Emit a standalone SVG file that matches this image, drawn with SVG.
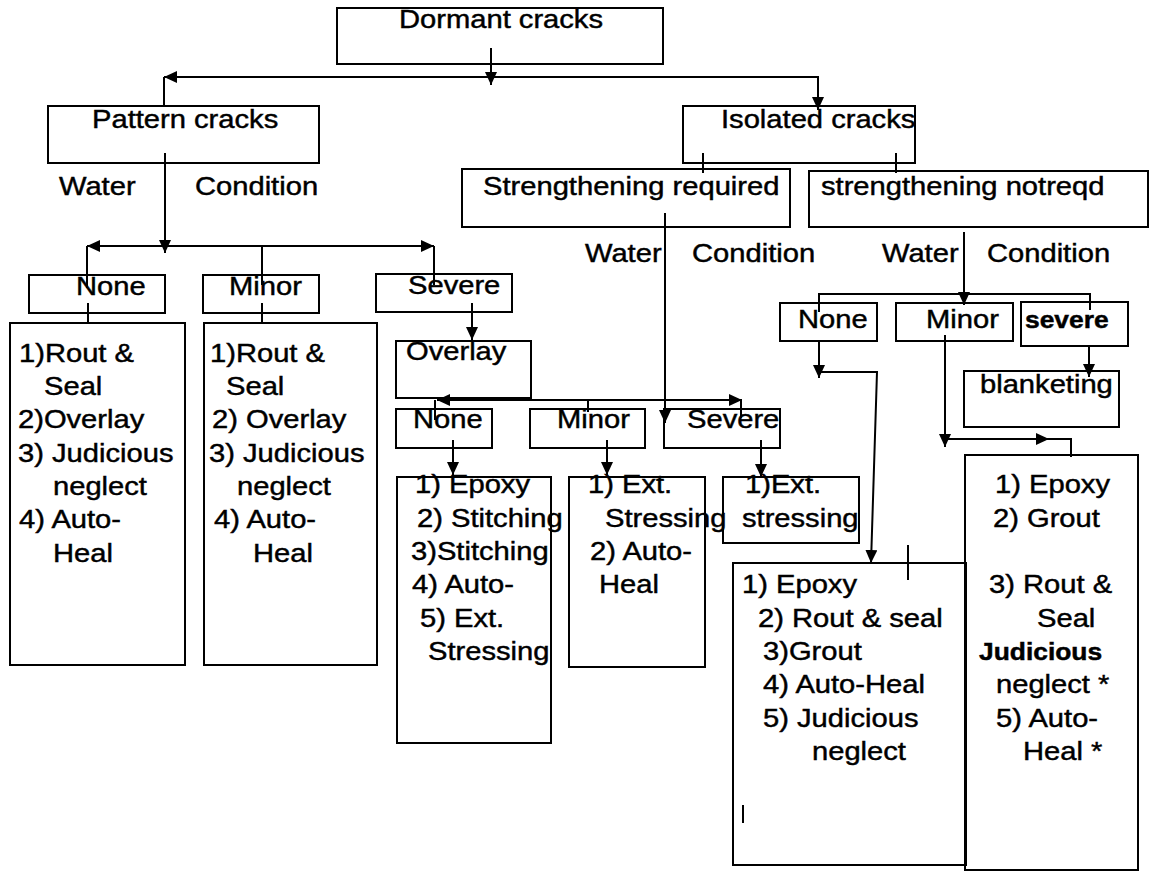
<svg xmlns="http://www.w3.org/2000/svg" width="1158" height="871" viewBox="0 0 1158 871">
  <defs>
    <style>
      .box { fill: none; stroke: #000; stroke-width: 2; }
      .ln { fill: none; stroke: #000; stroke-width: 2; }
      .arr { marker-end: url(#head); }
      text { font-family: "Liberation Sans", Arial, sans-serif; fill: #000; stroke: #000; stroke-width: 0.45; }
      .t { font-size: 26.5px; transform-box: fill-box; transform-origin: left; transform: scaleX(1.1); }
      .b { font-size: 24px; font-weight: bold; transform-box: fill-box; transform-origin: left; transform: scaleX(1.1); }
    </style>
    <marker id="head" markerUnits="userSpaceOnUse" markerWidth="14" markerHeight="13" refX="13" refY="6" orient="auto">
      <path d="M0,0 L13,6 L0,12 z" fill="#000"/>
    </marker>
  </defs>
  <rect width="1158" height="871" fill="#fff"/>

  <!-- connectors -->
  <g id="connectors">
    <path class="ln arr" d="M491,48 V85"/>
    <path class="ln arr" d="M491,77 H164"/>
    <path class="ln" d="M164,77 V106"/>
    <path class="ln arr" d="M491,77 H818 V110"/>

    <path class="ln arr" d="M165,153 V253"/>
    <path class="ln arr" d="M165,246 H87"/>
    <path class="ln" d="M87,246 V288"/>
    <path class="ln arr" d="M165,246 H434"/>
    <path class="ln" d="M434,246 V285"/>
    <path class="ln" d="M262,246 V285"/>

    <path class="ln" d="M88,303 V323"/>
    <path class="ln" d="M262,303 V323"/>
    <path class="ln arr" d="M472,303 V340"/>

    <path class="ln arr" d="M588,400 H437"/>
    <path class="ln arr" d="M588,400 H742"/>
    <path class="ln" d="M435,400 V420"/>
    <path class="ln" d="M588,400 V412"/>
    <path class="ln" d="M741,400 V418"/>

    <path class="ln arr" d="M665,213 V423"/>
    <path class="ln arr" d="M453,440 V475"/>
    <path class="ln arr" d="M607,440 V475"/>
    <path class="ln arr" d="M761,440 V477"/>

    <path class="ln" d="M703,153 V173"/>
    <path class="ln" d="M896,153 V173"/>

    <path class="ln arr" d="M964,232 V305"/>
    <path class="ln" d="M819,312 V294 H1090 V310"/>

    <path class="ln arr" d="M819,342 V378"/>
    <path class="ln arr" d="M819,372 H877 L871,563"/>

    <path class="ln arr" d="M945,335 V447"/>
    <path class="ln arr" d="M945,439 H1049"/>
    <path class="ln" d="M1049,439 H1071 V457"/>

    <path class="ln arr" d="M1089,346 V377"/>

    <path class="ln" d="M908,545 V580"/>
    <path class="ln" d="M743,805 V823"/>
  </g>

  <!-- top level -->
  <g id="dormant">
    <rect class="box" x="337" y="8" width="326" height="56"/>
    <text class="t" x="399" y="28">Dormant cracks</text>
  </g>
  <g id="pattern">
    <rect class="box" x="48" y="106" width="271" height="57"/>
    <text class="t" x="92" y="128">Pattern cracks</text>
  </g>
  <g id="isolated">
    <rect class="box" x="683" y="106" width="232" height="57"/>
    <text class="t" x="721" y="128">Isolated cracks</text>
  </g>
  <g id="str-req">
    <rect class="box" x="462" y="169" width="328" height="58"/>
    <text class="t" x="483" y="195">Strengthening required</text>
  </g>
  <g id="str-notreq">
    <rect class="box" x="809" y="171" width="339" height="56"/>
    <text class="t" x="821" y="195">strengthening notreqd</text>
  </g>

  <!-- water condition labels -->
  <g id="wc-pattern">
    <text class="t" x="59" y="195">Water</text>
    <text class="t" x="195" y="195">Condition</text>
  </g>
  <g id="wc-req">
    <text class="t" x="585" y="262">Water</text>
    <text class="t" x="692" y="262">Condition</text>
  </g>
  <g id="wc-notreq">
    <text class="t" x="882" y="262">Water</text>
    <text class="t" x="987" y="262">Condition</text>
  </g>

  <!-- pattern cracks branch -->
  <g id="p-none">
    <rect class="box" x="29" y="275" width="136" height="38"/>
    <text class="t" x="76" y="295">None</text>
  </g>
  <g id="p-minor">
    <rect class="box" x="203" y="275" width="116" height="38"/>
    <text class="t" x="229" y="295">Minor</text>
  </g>
  <g id="p-severe">
    <rect class="box" x="376" y="274" width="136" height="38"/>
    <text class="t" x="408" y="294">Severe</text>
  </g>
  <g id="p-none-list">
    <rect class="box" x="10" y="323" width="175" height="342"/>
    <text class="t" x="19" y="362">1)Rout &amp;</text>
    <text class="t" x="44" y="395">Seal</text>
    <text class="t" x="18" y="428">2)Overlay</text>
    <text class="t" x="18" y="462">3) Judicious</text>
    <text class="t" x="53" y="495">neglect</text>
    <text class="t" x="19" y="528">4) Auto-</text>
    <text class="t" x="53" y="562">Heal</text>
  </g>
  <g id="p-minor-list">
    <rect class="box" x="204" y="323" width="173" height="342"/>
    <text class="t" x="210" y="362">1)Rout &amp;</text>
    <text class="t" x="226" y="395">Seal</text>
    <text class="t" x="212" y="428">2) Overlay</text>
    <text class="t" x="209" y="462">3) Judicious</text>
    <text class="t" x="237" y="495">neglect</text>
    <text class="t" x="214" y="528">4) Auto-</text>
    <text class="t" x="253" y="562">Heal</text>
  </g>
  <g id="overlay">
    <rect class="box" x="396" y="341" width="135" height="57"/>
    <text class="t" x="406" y="360">Overlay</text>
  </g>

  <!-- strengthening required branch -->
  <g id="r-none">
    <rect class="box" x="396" y="409" width="96" height="39"/>
    <text class="t" x="413" y="428">None</text>
  </g>
  <g id="r-minor">
    <rect class="box" x="530" y="409" width="115" height="39"/>
    <text class="t" x="557" y="428">Minor</text>
  </g>
  <g id="r-severe">
    <rect class="box" x="664" y="409" width="116" height="39"/>
    <text class="t" x="687" y="428">Severe</text>
  </g>
  <g id="r-none-list">
    <rect class="box" x="397" y="477" width="154" height="266"/>
    <text class="t" x="415" y="493">1) Epoxy</text>
    <text class="t" x="417" y="527">2) Stitching</text>
    <text class="t" x="411" y="560">3)Stitching</text>
    <text class="t" x="412" y="593">4) Auto-</text>
    <text class="t" x="420" y="627">5) Ext.</text>
    <text class="t" x="428" y="660">Stressing</text>
  </g>
  <g id="r-minor-list">
    <rect class="box" x="569" y="477" width="136" height="190"/>
    <text class="t" x="588" y="493">1) Ext.</text>
    <text class="t" x="605" y="527">Stressing</text>
    <text class="t" x="590" y="560">2) Auto-</text>
    <text class="t" x="599" y="593">Heal</text>
  </g>
  <g id="r-severe-list">
    <rect class="box" x="723" y="477" width="136" height="66"/>
    <text class="t" x="745" y="493">1)Ext.</text>
    <text class="t" x="742" y="527">stressing</text>
  </g>

  <!-- strengthening not required branch -->
  <g id="n-none">
    <rect class="box" x="780" y="303" width="97" height="38"/>
    <text class="t" x="798" y="328">None</text>
  </g>
  <g id="n-minor">
    <rect class="box" x="896" y="303" width="117" height="38"/>
    <text class="t" x="926" y="328">Minor</text>
  </g>
  <g id="n-severe">
    <rect class="box" x="1021" y="302" width="107" height="44"/>
    <text class="b" x="1025" y="328">severe</text>
  </g>
  <g id="blanketing">
    <rect class="box" x="964" y="371" width="155" height="56"/>
    <text class="t" x="980" y="393">blanketing</text>
  </g>
  <g id="n-none-list">
    <rect class="box" x="733" y="563" width="233" height="302"/>
    <text class="t" x="742" y="593">1) Epoxy</text>
    <text class="t" x="758" y="627">2) Rout &amp; seal</text>
    <text class="t" x="763" y="660">3)Grout</text>
    <text class="t" x="763" y="693">4) Auto-Heal</text>
    <text class="t" x="763" y="727">5) Judicious</text>
    <text class="t" x="812" y="760">neglect</text>
  </g>
  <g id="n-minor-list">
    <rect class="box" x="965" y="455" width="173" height="415"/>
    <text class="t" x="995" y="493">1) Epoxy</text>
    <text class="t" x="993" y="527">2) Grout</text>
    <text class="t" x="989" y="593">3) Rout &amp;</text>
    <text class="t" x="1037" y="627">Seal</text>
    <text class="b" x="979" y="660">Judicious</text>
    <text class="t" x="996" y="693">neglect *</text>
    <text class="t" x="996" y="727">5) Auto-</text>
    <text class="t" x="1023" y="760">Heal *</text>
  </g>
</svg>
